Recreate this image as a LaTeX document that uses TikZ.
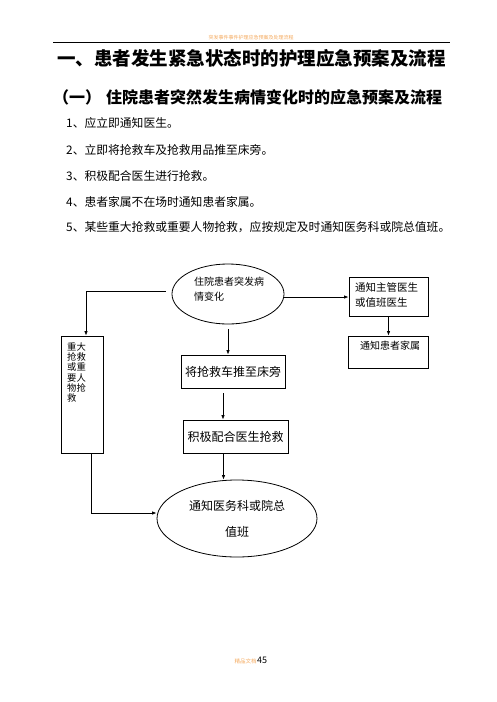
\documentclass[tikz,border=0pt]{standalone}
\usepackage{fontspec}
\setmainfont{Noto Sans CJK SC}
\usetikzlibrary{shapes.geometric,arrows.meta}
\definecolor{hdrorange}{RGB}{244,170,95}

\tikzset{
  flowbox/.style={draw,line width=0.8pt,inner sep=0pt},
  flowell/.style={draw,ellipse,line width=0.8pt,inner sep=0pt},
  flowarr/.style={line width=0.8pt,-{Latex[length=4.5pt,width=3.5pt]}},
  itemtxt/.style={anchor=west,inner sep=0pt,font=\fontsize{11.8}{11.8}\selectfont},
  boxtxt/.style={inner sep=0pt,align=left,font=\fontsize{10}{15}\selectfont},
}

\begin{document}
\begin{tikzpicture}[x=1pt,y=-1pt]
        \useasboundingbox (0,0) rectangle (496,702);
        % header and footer
        \node[inner sep=0pt,text=hdrorange,font=\fontsize{5}{5}\selectfont] (hdr) at (251,37.5) {突发事件事件护理应急预案及处理流程};
        \draw[line width=0.9pt] (53,42.3) -- (450,42.3);
        \node[inner sep=0pt,text=hdrorange,font=\fontsize{5.5}{5.5}\selectfont] (foot) at (245.5,661) {精品文档};
        \node[anchor=west,inner sep=0pt,font=\fontsize{9}{9}\selectfont] (pageno) at (257,660.5) {45};
        % titles
        \node[anchor=west,inner sep=0pt,font=\bfseries\fontsize{18.5}{18.5}\selectfont] (title) at (57,58) {一、患者发生紧急状态时的护理应急预案及流程};
        \node[anchor=west,inner sep=0pt,font=\bfseries\fontsize{16}{16}\selectfont] (subnum) at (53,97) {（一）};
        \node[anchor=west,inner sep=0pt,font=\bfseries\fontsize{16}{16}\selectfont] (subtitle) at (106,97) {住院患者突然发生病情变化时的应急预案及流程};
        % list
        \node[itemtxt] (item1) at (66,123.5) {1、应立即通知医生。};
        \node[itemtxt] (item2) at (66,149.5) {2、立即将抢救车及抢救用品推至床旁。};
        \node[itemtxt] (item3) at (66,176)   {3、积极配合医生进行抢救。};
        \node[itemtxt] (item4) at (66,201.5) {4、患者家属不在场时通知患者家属。};
        \node[itemtxt] (item5) at (66,227.5) {5、某些重大抢救或重要人物抢救，应按规定及时通知医务科或院总值班。};
        % flow chart
        \node[flowell,minimum width=112pt,minimum height=60pt] (onset) at (228,294) {};
        \node[boxtxt] (onsettxt) at (229,289.5) {住院患者突发病\\情变化};
        \node[flowbox,minimum width=79pt,minimum height=39pt] (doctor) at (388.5,296.5) {};
        \node[boxtxt,anchor=west,font=\fontsize{10.5}{15}\selectfont] (doctortxt) at (355,294.5) {通知主管医生\\或值班医生};
        \node[flowbox,minimum width=80pt,minimum height=32pt] (family) at (388,352) {};
        \node[boxtxt,anchor=west] (familytxt) at (360,346) {通知患者家属};
        \node[flowbox,minimum width=42pt,minimum height=117pt] (side) at (82,394.5) {};
        \node[boxtxt,anchor=west,font=\fontsize{9.3}{10.3}\selectfont] (sidetxt) at (67,372.5) {重大\\抢救\\或重\\要人\\物抢\\救};
        \node[flowbox,minimum width=104pt,minimum height=33pt,font=\fontsize{12}{12}\selectfont] (cart) at (233,371.5) {将抢救车推至床旁};
        \node[flowbox,minimum width=105pt,minimum height=33pt,font=\fontsize{12}{12}\selectfont] (assist) at (235.5,436.5) {积极配合医生抢救};
        \node[flowell,minimum width=160pt,minimum height=77pt,align=center,font=\fontsize{12}{26}\selectfont] (report) at (237,518.5) {通知医务科或院总\\值班};
        \draw[flowarr] ([shift={(-6,-3)}]onset.west) -| ([xshift=4pt]side.north);               % onset - side
        \draw[flowarr] ([yshift=-3pt]onset.east) -- ([yshift=-3pt]onset.east -| doctor.west);  % onset - doctor
        \draw[flowarr] (doctor.south) -- (doctor.south |- family.north);                        % doctor - family
        \draw[flowarr] ([yshift=-5pt]onset.south) -- (onset.south |- cart.north);               % onset - cart
        \draw[flowarr] ([shift={(-10,5)}]cart.south) -- ([xshift=-10pt]cart.south |- assist.north); % cart - assist
        \draw[flowarr] ([xshift=-12pt]assist.south) -- ([xshift=-12pt]assist.south |- report.north); % assist - report
        \draw[flowarr] ([xshift=9pt]side.south) |- ([yshift=5.5pt]report.west);                 % side - report
    \end{tikzpicture}
\end{document}
